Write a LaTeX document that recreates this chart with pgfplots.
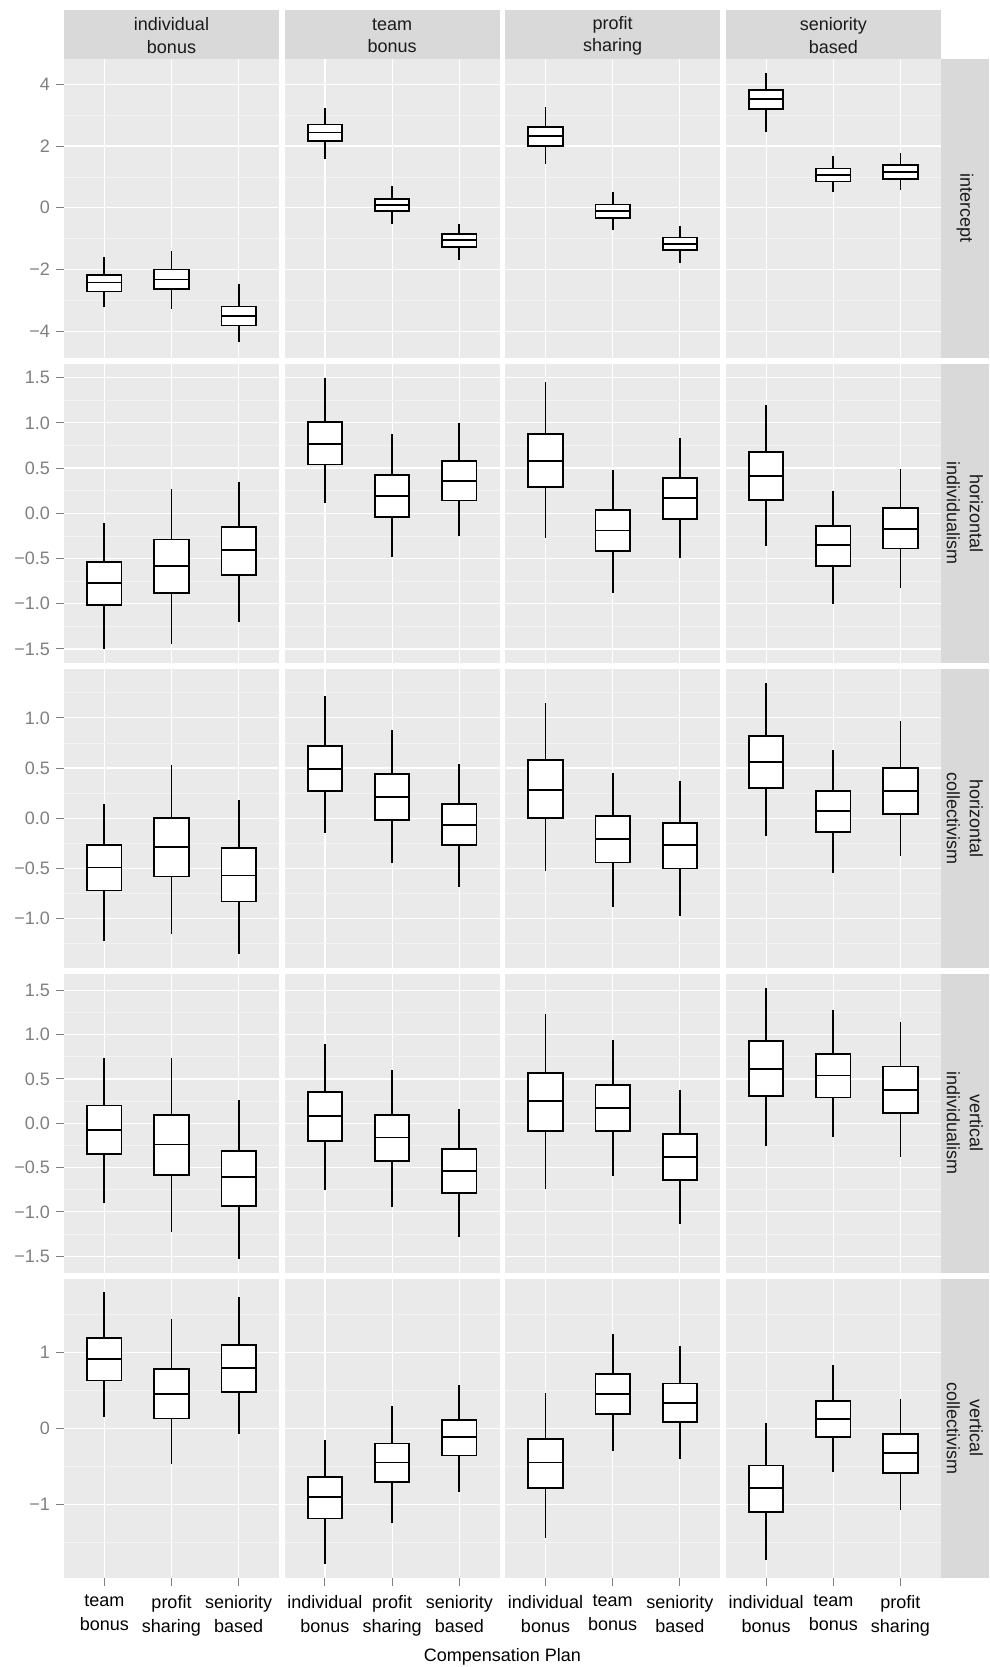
\documentclass[border=0pt]{standalone}
\usepackage{pgfplots}
\pgfplotsset{compat=1.18}
\usepackage{pgfplotstable}
\usepgfplotslibrary{statistics}
\usepackage{fontspec}
\setmainfont{Liberation Sans}

\definecolor{panelbg}{HTML}{EAEAEA}
\definecolor{stripbg}{HTML}{D9D9D9}
\definecolor{gridminor}{HTML}{F3F3F3}
\definecolor{axisgrey}{HTML}{7F7F7F}
\definecolor{striptext}{HTML}{1A1A1A}

% Posterior summaries: lower whisker, quartiles, median, upper whisker.
% Each facet row holds 4 panels x 3 contrasts (in panel order).
\pgfplotstableread{
lw lq med uq uw
-3.21 -2.71 -2.42 -2.17 -1.59
-3.28 -2.63 -2.32 -2.00 -1.41
-4.34 -3.81 -3.50 -3.20 -2.46
1.59 2.16 2.44 2.70 3.23
-0.51 -0.11 0.10 0.29 0.69
-1.69 -1.27 -1.05 -0.86 -0.51
1.41 2.01 2.33 2.62 3.27
-0.71 -0.32 -0.10 0.11 0.50
-1.80 -1.38 -1.17 -0.96 -0.58
2.45 3.20 3.52 3.82 4.38
0.50 0.85 1.07 1.27 1.67
0.57 0.94 1.17 1.39 1.79
}\intercept

\pgfplotstableread{
lw lq med uq uw
-1.50 -1.01 -0.77 -0.54 -0.11
-1.45 -0.88 -0.58 -0.29 0.27
-1.20 -0.68 -0.41 -0.15 0.35
0.11 0.54 0.77 1.01 1.50
-0.48 -0.04 0.19 0.42 0.88
-0.25 0.14 0.36 0.58 1.00
-0.27 0.29 0.58 0.88 1.45
-0.88 -0.42 -0.19 0.04 0.48
-0.49 -0.06 0.17 0.39 0.83
-0.36 0.15 0.41 0.68 1.20
-1.00 -0.58 -0.35 -0.14 0.25
-0.83 -0.39 -0.17 0.06 0.49
}\horind

\pgfplotstableread{
lw lq med uq uw
-1.22 -0.72 -0.49 -0.27 0.14
-1.15 -0.58 -0.29 0.00 0.53
-1.35 -0.83 -0.57 -0.30 0.18
-0.15 0.27 0.49 0.72 1.22
-0.45 -0.02 0.21 0.44 0.88
-0.68 -0.27 -0.07 0.14 0.54
-0.53 0.00 0.28 0.58 1.15
-0.88 -0.44 -0.21 0.02 0.45
-0.97 -0.50 -0.27 -0.05 0.37
-0.18 0.30 0.56 0.82 1.35
-0.55 -0.14 0.07 0.27 0.68
-0.38 0.04 0.27 0.50 0.97
}\horcol

\pgfplotstableread{
lw lq med uq uw
-0.90 -0.35 -0.08 0.20 0.74
-1.23 -0.58 -0.24 0.09 0.74
-1.53 -0.93 -0.61 -0.31 0.26
-0.75 -0.20 0.08 0.35 0.90
-0.94 -0.43 -0.16 0.09 0.60
-1.28 -0.79 -0.54 -0.29 0.16
-0.74 -0.09 0.25 0.57 1.23
-0.60 -0.09 0.17 0.43 0.94
-1.14 -0.64 -0.38 -0.12 0.38
-0.26 0.31 0.61 0.93 1.53
-0.16 0.29 0.54 0.78 1.28
-0.38 0.12 0.38 0.64 1.14
}\verind

\pgfplotstableread{
lw lq med uq uw
0.15 0.63 0.91 1.19 1.79
-0.47 0.13 0.45 0.78 1.44
-0.08 0.48 0.79 1.10 1.73
-1.79 -1.19 -0.91 -0.64 -0.15
-1.25 -0.71 -0.45 -0.20 0.29
-0.84 -0.36 -0.12 0.11 0.57
-1.45 -0.79 -0.45 -0.14 0.46
-0.30 0.19 0.45 0.71 1.24
-0.40 0.08 0.33 0.59 1.08
-1.73 -1.10 -0.79 -0.49 0.07
-0.58 -0.12 0.12 0.36 0.83
-1.08 -0.59 -0.33 -0.08 0.39
}\vercol

% panel geometry (pt), origin at the top-left corner of the figure
\def\cA{32pt}\def\cB{142.3pt}\def\cC{252.6pt}\def\cD{362.9pt}
\def\rA{-29.5pt}\def\rB{-182pt}\def\rC{-334.5pt}\def\rD{-487pt}\def\rE{-639.5pt}

\pgfplotsset{
  facet/.style={
    scale only axis, width=107.5pt, height=149.25pt, anchor=north west,
    xmin=0.4, xmax=3.6, xtick={1,2,3},
    grid=both,
    major grid style={draw=white, line width=0.6pt},
    minor grid style={draw=gridminor, line width=0.35pt},
    axis background/.style={fill=panelbg},
    axis line style={draw=none},
    tick align=outside, tick pos=left,
    major tick length=4pt, minor tick length=0pt,
    xticklabels={}, yticklabels={},
    xtick style={draw=none}, ytick style={draw=none},
    boxplot/draw direction=y,
    boxplot/box extend=0.51,
    boxplot/whisker extend=0,
    boxplot/every whisker/.style={line width=0.9pt},
    boxplot/every median/.style={line width=0.9pt},
    boxplot/every box/.style={line width=0.9pt},
  },
  leftcol/.style={
    ytick style={draw=axisgrey, line width=0.5pt},
    yticklabel style={font=\fontsize{9}{10}\selectfont, text=axisgrey,
      inner sep=0pt, xshift=-2.8pt},
  },
  bottomrow/.style={
    xtick style={draw=axisgrey, line width=0.5pt},
    xticklabel style={font=\fontsize{9}{12}\selectfont, align=center,
      text=black, inner sep=0pt, yshift=-4.6pt},
  },
  rowA/.style={ymin=-4.85, ymax=4.82, ytick={-4,-2,0,2,4}, minor ytick={-3,-1,1,3}},
  rowB/.style={ymin=-1.65, ymax=1.65, ytick={-1.5,-1,-0.5,0,0.5,1,1.5},
    minor ytick={-1.25,-0.75,-0.25,0.25,0.75,1.25}},
  rowC/.style={ymin=-1.487, ymax=1.487, ytick={-1,-0.5,0,0.5,1},
    minor ytick={-1.25,-0.75,-0.25,0.25,0.75,1.25}},
  rowD/.style={ymin=-1.685, ymax=1.685, ytick={-1.5,-1,-0.5,0,0.5,1,1.5},
    minor ytick={-1.25,-0.75,-0.25,0.25,0.75,1.25}},
  rowE/.style={ymin=-1.967, ymax=1.967, ytick={-1,0,1}, minor ytick={-1.5,-0.5,0.5,1.5}},
  boxstyle/.style={draw=black, fill=white, line width=0.9pt, solid},
}

% one box drawn from row #2 of table #1 at category position #3
\newcommand{\boxfromrow}[3]{%
  \pgfplotstablegetelem{#2}{lw}\of#1\let\bLW\pgfplotsretval
  \pgfplotstablegetelem{#2}{lq}\of#1\let\bLQ\pgfplotsretval
  \pgfplotstablegetelem{#2}{med}\of#1\let\bMD\pgfplotsretval
  \pgfplotstablegetelem{#2}{uq}\of#1\let\bUQ\pgfplotsretval
  \pgfplotstablegetelem{#2}{uw}\of#1\let\bUW\pgfplotsretval
  \edef\doplot{\noexpand\addplot[boxstyle, boxplot prepared={draw position=#3,
    lower whisker=\bLW, lower quartile=\bLQ, median=\bMD,
    upper quartile=\bUQ, upper whisker=\bUW}] coordinates {};}%
  \doplot
}
\newcommand{\facetboxes}[4]{%
  \boxfromrow{#1}{#2}{1}\boxfromrow{#1}{#3}{2}\boxfromrow{#1}{#4}{3}%
}

\begin{document}
\begin{tikzpicture}
\useasboundingbox (0,0) rectangle (495pt,-833.5pt);

% ---- row: intercept
\begin{axis}[facet, rowA, at={(\cA,\rA)}, leftcol, yticklabels={−4,−2,0,2,4}]
  \facetboxes{\intercept}{0}{1}{2}
\end{axis}
\begin{axis}[facet, rowA, at={(\cB,\rA)}]
  \facetboxes{\intercept}{3}{4}{5}
\end{axis}
\begin{axis}[facet, rowA, at={(\cC,\rA)}]
  \facetboxes{\intercept}{6}{7}{8}
\end{axis}
\begin{axis}[facet, rowA, at={(\cD,\rA)}]
  \facetboxes{\intercept}{9}{10}{11}
\end{axis}

% ---- row: horizontal individualism
\begin{axis}[facet, rowB, at={(\cA,\rB)}, leftcol,
  yticklabels={−1.5,−1.0,−0.5,0.0,0.5,1.0,1.5}]
  \facetboxes{\horind}{0}{1}{2}
\end{axis}
\begin{axis}[facet, rowB, at={(\cB,\rB)}]
  \facetboxes{\horind}{3}{4}{5}
\end{axis}
\begin{axis}[facet, rowB, at={(\cC,\rB)}]
  \facetboxes{\horind}{6}{7}{8}
\end{axis}
\begin{axis}[facet, rowB, at={(\cD,\rB)}]
  \facetboxes{\horind}{9}{10}{11}
\end{axis}

% ---- row: horizontal collectivism
\begin{axis}[facet, rowC, at={(\cA,\rC)}, leftcol,
  yticklabels={−1.0,−0.5,0.0,0.5,1.0}]
  \facetboxes{\horcol}{0}{1}{2}
\end{axis}
\begin{axis}[facet, rowC, at={(\cB,\rC)}]
  \facetboxes{\horcol}{3}{4}{5}
\end{axis}
\begin{axis}[facet, rowC, at={(\cC,\rC)}]
  \facetboxes{\horcol}{6}{7}{8}
\end{axis}
\begin{axis}[facet, rowC, at={(\cD,\rC)}]
  \facetboxes{\horcol}{9}{10}{11}
\end{axis}

% ---- row: vertical individualism
\begin{axis}[facet, rowD, at={(\cA,\rD)}, leftcol,
  yticklabels={−1.5,−1.0,−0.5,0.0,0.5,1.0,1.5}]
  \facetboxes{\verind}{0}{1}{2}
\end{axis}
\begin{axis}[facet, rowD, at={(\cB,\rD)}]
  \facetboxes{\verind}{3}{4}{5}
\end{axis}
\begin{axis}[facet, rowD, at={(\cC,\rD)}]
  \facetboxes{\verind}{6}{7}{8}
\end{axis}
\begin{axis}[facet, rowD, at={(\cD,\rD)}]
  \facetboxes{\verind}{9}{10}{11}
\end{axis}

% ---- row: vertical collectivism (carries the category labels)
\begin{axis}[facet, rowE, at={(\cA,\rE)}, leftcol, bottomrow,
  yticklabels={−1,0,1},
  xticklabels={{team\\bonus},{profit\\sharing},{seniority\\based}}]
  \facetboxes{\vercol}{0}{1}{2}
\end{axis}
\begin{axis}[facet, rowE, at={(\cB,\rE)}, bottomrow,
  xticklabels={{individual\\bonus},{profit\\sharing},{seniority\\based}}]
  \facetboxes{\vercol}{3}{4}{5}
\end{axis}
\begin{axis}[facet, rowE, at={(\cC,\rE)}, bottomrow,
  xticklabels={{individual\\bonus},{team\\bonus},{seniority\\based}}]
  \facetboxes{\vercol}{6}{7}{8}
\end{axis}
\begin{axis}[facet, rowE, at={(\cD,\rE)}, bottomrow,
  xticklabels={{individual\\bonus},{team\\bonus},{profit\\sharing}}]
  \facetboxes{\vercol}{9}{10}{11}
\end{axis}

% ---- column strips
\foreach \x/\lab in {32/{individual\\bonus}, 142.3/{team\\bonus},
                      252.6/{profit\\sharing}, 362.9/{seniority\\based}} {
  \fill[stripbg] (\x pt,-5pt) rectangle ++(107.5pt,-24.5pt);
  \node[text=striptext, font=\fontsize{9}{11.2}\selectfont, align=center]
    at (\x pt+53.75pt,-17.85pt) {\lab};
}

% ---- row strips
\foreach \y/\lab in {-29.5/{intercept}, -182/{horizontal\\individualism},
                      -334.5/{horizontal\\collectivism}, -487/{vertical\\individualism},
                      -639.5/{vertical\\collectivism}} {
  \fill[stripbg] (470.4pt,\y pt) rectangle ++(24.1pt,-149.25pt);
  \node[text=striptext, font=\fontsize{9}{11.5}\selectfont, align=center, rotate=-90]
    at (482.45pt,\y pt-74.625pt) {\lab};
}

% ---- axis title
\node[font=\fontsize{9}{11}\selectfont, anchor=base] at (251.2pt,-830.75pt)
  {Compensation Plan};
\end{tikzpicture}
\end{document}
